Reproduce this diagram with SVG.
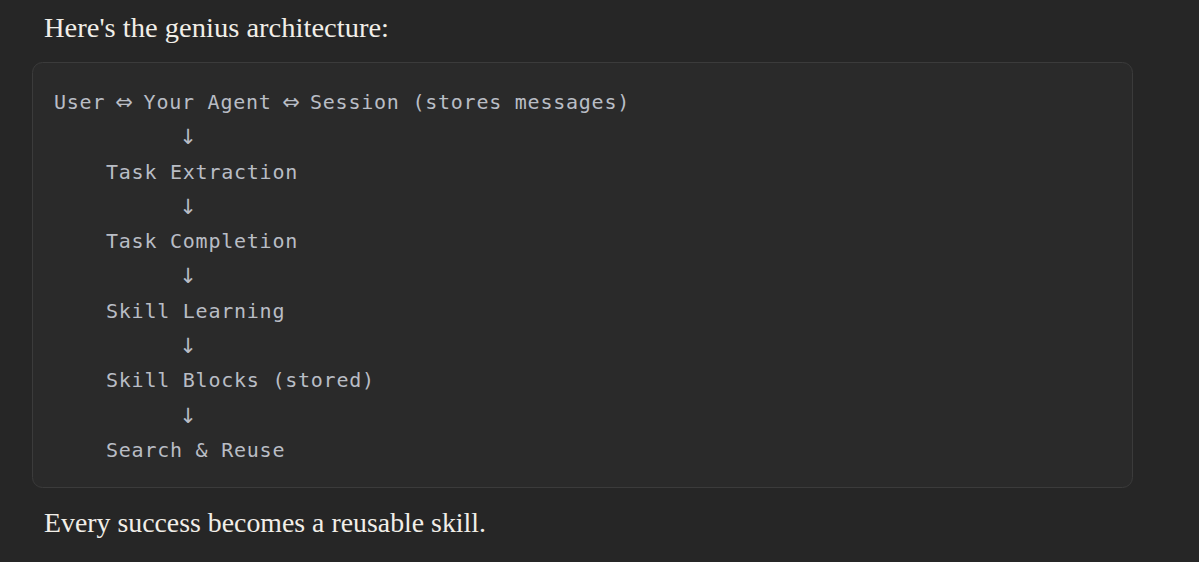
<svg xmlns="http://www.w3.org/2000/svg" width="1199" height="562" viewBox="0 0 1199 562">
  <style>
    .serif { font-family: "Liberation Serif", "DejaVu Serif", serif; font-size: 27px; fill: #f1eee8; }
    .mono { font-family: "DejaVu Sans Mono", "Liberation Mono", monospace; font-size: 20px; fill: #b9bdc5; letter-spacing: 0.76px; white-space: pre; }
    .arr { font-family: "DejaVu Sans", "Noto Sans", sans-serif; fill: #b9bdc5; text-anchor: middle; }
    .down { font-size: 21px; }
    .lr { font-size: 21px; }
  </style>
  <rect x="0" y="0" width="1199" height="562" fill="#262626"/>
  <text class="serif" x="44" y="37" textLength="345" lengthAdjust="spacingAndGlyphs">Here's the genius architecture:</text>
  <rect x="32.5" y="62.5" width="1100" height="425" rx="10" ry="10" fill="#2a2a2a" stroke="#3b3b3b" stroke-width="1"/>
  <g id="node-top">
    <text class="mono" x="54" y="109">User</text>
    <text class="arr lr" x="124" y="109">⇔</text>
    <text class="mono" x="143.6" y="109">Your Agent</text>
    <text class="arr lr" x="291" y="109">⇔</text>
    <text class="mono" x="310" y="109">Session (stores messages)</text>
  </g>
  <g id="connectors">
    <text class="arr down" x="188" y="144">↓</text>
    <text class="arr down" x="188" y="214">↓</text>
    <text class="arr down" x="188" y="283">↓</text>
    <text class="arr down" x="188" y="353">↓</text>
    <text class="arr down" x="188" y="423">↓</text>
  </g>
  <g id="node-extraction"><text class="mono" x="106" y="179">Task Extraction</text></g>
  <g id="node-completion"><text class="mono" x="106" y="248">Task Completion</text></g>
  <g id="node-learning"><text class="mono" x="106" y="318">Skill Learning</text></g>
  <g id="node-blocks"><text class="mono" x="106" y="387">Skill Blocks (stored)</text></g>
  <g id="node-search"><text class="mono" x="106" y="457">Search &amp; Reuse</text></g>
  <text class="serif" x="44" y="532" textLength="442" lengthAdjust="spacingAndGlyphs">Every success becomes a reusable skill.</text>
</svg>
